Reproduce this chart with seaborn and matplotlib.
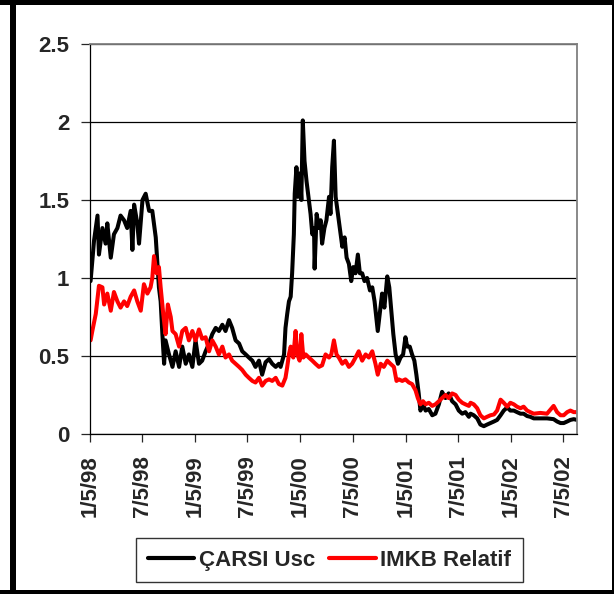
import pandas as pd
import numpy as np
import matplotlib
matplotlib.use("Agg")
import matplotlib.pyplot as plt
from matplotlib.patches import Rectangle
import seaborn as sns

# --------------------------------------------------------------
# Data, day offsets from 5 Jan 1998
# --------------------------------------------------------------
start_date = "1998-01-05"

carsi_days = [
    2, 14, 26, 31, 43, 54, 60, 72, 83, 95, 106, 118, 129, 141, 147, 153, 164, 170,
    182, 193, 205, 216, 228, 234, 239, 245, 251, 257, 262, 274, 286, 297, 309, 320,
    332, 343, 355, 366, 378, 389, 401, 413, 424, 436, 447, 459, 470, 482, 493, 505,
    517, 528, 540, 551, 563, 574, 586, 597, 609, 621, 632, 644, 655,
    661, 673, 678, 684, 690, 696, 701, 707, 710, 716, 721, 728, 733, 738, 744, 751,
    759, 765, 771, 777, 779, 786, 794, 800, 805, 813, 820, 829, 834, 840, 846, 852,
    857, 863, 869, 875, 883, 890, 898, 906, 913, 921, 929, 936, 944, 952, 961, 971,
    979, 987, 994, 998, 1005, 1013, 1021, 1031, 1038, 1045, 1052, 1060, 1068, 1077,
    1086, 1094, 1100, 1109, 1117, 1125, 1132, 1140, 1146, 1155, 1164, 1175, 1187,
    1198, 1210, 1221, 1233, 1244, 1256, 1268, 1279, 1291, 1302, 1314,
    1320, 1331, 1343, 1354, 1366, 1377, 1389, 1401, 1412, 1424, 1435, 1447, 1458,
    1470, 1481, 1493, 1504, 1516, 1527, 1539, 1562, 1585, 1608, 1620, 1632, 1643,
    1655, 1666, 1678, 1689,
]
carsi_values = [
    0.98, 1.24, 1.40, 1.15, 1.32, 1.22, 1.35, 1.13, 1.28, 1.32, 1.40, 1.37, 1.32, 1.43,
    1.18, 1.47, 1.35, 1.22, 1.50, 1.54, 1.43, 1.43, 1.26, 1.09, 0.94, 0.85, 0.64, 0.45,
    0.60, 0.51, 0.43, 0.53, 0.43, 0.56, 0.45, 0.51, 0.43, 0.60, 0.45, 0.47, 0.53, 0.58,
    0.64, 0.68, 0.66, 0.70, 0.66, 0.73, 0.68, 0.60, 0.58, 0.53, 0.51, 0.49, 0.47, 0.43,
    0.47, 0.38, 0.46, 0.48, 0.45, 0.43, 0.45,
    0.43, 0.51, 0.68, 0.77, 0.85, 0.88, 1.03, 1.28, 1.54, 1.71, 1.52, 1.67, 1.50, 2.01,
    1.75, 1.62, 1.50, 1.41, 1.28, 1.32, 1.06, 1.41, 1.32, 1.37, 1.22, 1.32, 1.37, 1.52,
    1.41, 1.71, 1.88, 1.52, 1.45, 1.37, 1.28, 1.20, 1.26, 1.13, 1.09, 0.98, 1.07, 1.03,
    1.15, 1.03, 1.03, 0.98, 1.00, 0.92, 0.94, 0.85, 0.73, 0.66, 0.77, 0.90, 0.81, 1.01,
    0.94, 0.79, 0.64, 0.51, 0.45, 0.49, 0.51, 0.62, 0.56, 0.56, 0.51, 0.47, 0.38, 0.26,
    0.15, 0.19, 0.15, 0.16, 0.12, 0.13, 0.19, 0.27, 0.23, 0.26, 0.21, 0.19, 0.15, 0.13,
    0.14, 0.11,
    0.13, 0.12, 0.10, 0.06, 0.05, 0.06, 0.07, 0.08, 0.09, 0.12, 0.15, 0.17, 0.15, 0.15,
    0.14, 0.13, 0.13, 0.115, 0.11, 0.10, 0.10, 0.10, 0.095, 0.08, 0.07, 0.07, 0.08,
    0.09, 0.095, 0.09,
]

imkb_days = [
    2, 8, 20, 31, 43, 49, 60, 72, 83, 95, 106, 118, 129, 141, 153, 164, 176, 187, 199,
    210, 216, 222, 231, 239, 245, 254, 262, 270, 280, 286, 297, 309, 320, 332, 343,
    355, 366, 378, 389, 401, 413, 424, 436, 447, 459, 470, 482, 493, 505, 517, 528,
    540, 551, 563, 574, 586, 597, 609, 621, 632, 644, 655,
    667, 678, 684, 690, 696, 705, 713, 719, 727, 733, 740, 748, 759, 771, 782, 794,
    805, 817, 829, 837, 846, 855, 863, 875, 886, 898, 909, 921, 932, 944, 956, 967,
    979, 990, 998, 1008, 1019, 1031, 1042, 1054, 1063, 1071, 1083, 1094, 1106, 1117,
    1129, 1137, 1146, 1155, 1164, 1175, 1187, 1198, 1210, 1221, 1233, 1244, 1256,
    1268, 1279, 1291, 1302, 1314,
    1320, 1331, 1343, 1354, 1366, 1377, 1389, 1401, 1412, 1424, 1435, 1447, 1458,
    1470, 1481, 1493, 1504, 1516, 1527, 1539, 1562, 1585, 1608, 1620, 1632, 1643,
    1655, 1666, 1678, 1689,
]
imkb_values = [
    0.60, 0.66, 0.77, 0.95, 0.94, 0.83, 0.90, 0.79, 0.91, 0.85, 0.81, 0.85, 0.82, 0.88,
    0.92, 0.85, 0.79, 0.96, 0.90, 0.94, 1.00, 1.14, 1.03, 1.07, 0.94, 0.77, 0.64, 0.83,
    0.75, 0.66, 0.64, 0.56, 0.66, 0.68, 0.60, 0.66, 0.60, 0.67, 0.61, 0.62, 0.53, 0.60,
    0.56, 0.51, 0.56, 0.49, 0.51, 0.47, 0.45, 0.43, 0.41, 0.38, 0.36, 0.34, 0.33, 0.36,
    0.31, 0.34, 0.35, 0.34, 0.36, 0.32,
    0.31, 0.36, 0.43, 0.51, 0.56, 0.49, 0.66, 0.51, 0.47, 0.64, 0.49, 0.51, 0.49, 0.47,
    0.45, 0.43, 0.44, 0.51, 0.49, 0.51, 0.60, 0.51, 0.49, 0.45, 0.47, 0.43, 0.45, 0.49,
    0.53, 0.47, 0.51, 0.49, 0.53, 0.45, 0.38, 0.45, 0.43, 0.47, 0.45, 0.43, 0.34, 0.35,
    0.34, 0.35, 0.33, 0.32, 0.28, 0.23, 0.19, 0.21, 0.19, 0.20, 0.18, 0.19, 0.21, 0.23,
    0.25, 0.23, 0.26, 0.25, 0.22, 0.20, 0.19, 0.18,
    0.20, 0.19, 0.165, 0.12, 0.10, 0.11, 0.12, 0.125, 0.15, 0.22, 0.20, 0.175, 0.20,
    0.19, 0.175, 0.165, 0.175, 0.15, 0.14, 0.13, 0.135, 0.13, 0.18, 0.14, 0.12, 0.12,
    0.14, 0.15, 0.14, 0.14,
]

series_names = ["ÇARSI Usc", "IMKB Relatif"]
series_colors = ["black", "#ff0000"]

tick_dates = ["1998-01-05", "1998-07-05", "1999-01-05", "1999-07-05", "2000-01-05",
              "2000-07-05", "2001-01-05", "2001-07-05", "2002-01-05", "2002-07-05"]
tick_labels = ["1/5/98", "7/5/98", "1/5/99", "7/5/99", "1/5/00",
               "7/5/00", "1/5/01", "7/5/01", "1/5/02", "7/5/02"]
y_ticks = [0, 0.5, 1, 1.5, 2, 2.5]
y_labels = ["0", "0.5", "1", "1.5", "2", "2.5"]
x_end = "2002-08-21"

# --------------------------------------------------------------
# Long table for seaborn
# --------------------------------------------------------------
base = pd.Timestamp(start_date)
df = pd.concat([
    pd.DataFrame({"fecha": base + pd.to_timedelta(carsi_days, unit="D"),
                  "valor": carsi_values, "serie": series_names[0]}),
    pd.DataFrame({"fecha": base + pd.to_timedelta(imkb_days, unit="D"),
                  "valor": imkb_values, "serie": series_names[1]}),
], ignore_index=True)

sns.set_theme(style="white")
plt.rcParams["font.family"] = ["Liberation Sans", "DejaVu Sans"]
plt.rcParams["font.weight"] = "bold"

fig = plt.figure(figsize=(6.14, 5.94), dpi=100)
ax = fig.add_axes([0.1466, 0.2694, 0.7931, 0.6566])

sns.lineplot(data=df, x="fecha", y="valor", hue="serie", hue_order=series_names,
             palette=dict(zip(series_names, series_colors)), estimator=None,
             linewidth=2.9, ax=ax, legend=False)

ax.set_xlim(base, pd.Timestamp(x_end))
ax.set_ylim(0, 2.5)
ax.set_xticks(pd.to_datetime(tick_dates))
ax.set_xticklabels(tick_labels, rotation=90, fontsize=16, fontweight="bold")
ax.set_yticks(y_ticks)
ax.set_yticklabels(y_labels, fontsize=16, fontweight="bold")
ax.set_xlabel("")
ax.set_ylabel("")

ax.yaxis.grid(True, color="black", linewidth=0.9)
ax.xaxis.grid(False)
ax.tick_params(axis="y", direction="out", length=6.5, width=0.9, pad=8.5, left=True)
ax.tick_params(axis="x", direction="out", length=5.8, width=0.9, pad=9.5, bottom=True)

for side in ["left", "bottom"]:
    ax.spines[side].set_color("black")
    ax.spines[side].set_linewidth(0.9)
for side in ["top", "right"]:
    ax.spines[side].set_color("#808080")
    ax.spines[side].set_linewidth(1.3)

# leyenda abajo, en caja
handles = [plt.Line2D([], [], color=c, linewidth=3.0) for c in series_colors]
leg = fig.legend(handles, series_names, loc="center", bbox_to_anchor=(0.5366, 0.0572),
                 ncol=2, fontsize=16, frameon=True, fancybox=False, handlelength=2.1,
                 handletextpad=0.2, columnspacing=0.65, borderpad=0.5)
leg.get_frame().set_edgecolor("black")
leg.get_frame().set_linewidth(1.0)
for t in leg.get_texts():
    t.set_fontweight("bold")

# marco negro exterior
W, H = 614, 594
for (x0, y0, w, h) in [(10, 0, 6, H), (0, H - 5, W, 5), (0, 0, W, 4), (612, 0, 2, H)]:
    fig.patches.append(Rectangle((x0 / W, y0 / H), w / W, h / H, transform=fig.transFigure,
                                 facecolor="black", edgecolor="none", zorder=10))

fig.savefig("out.png", dpi=100)
